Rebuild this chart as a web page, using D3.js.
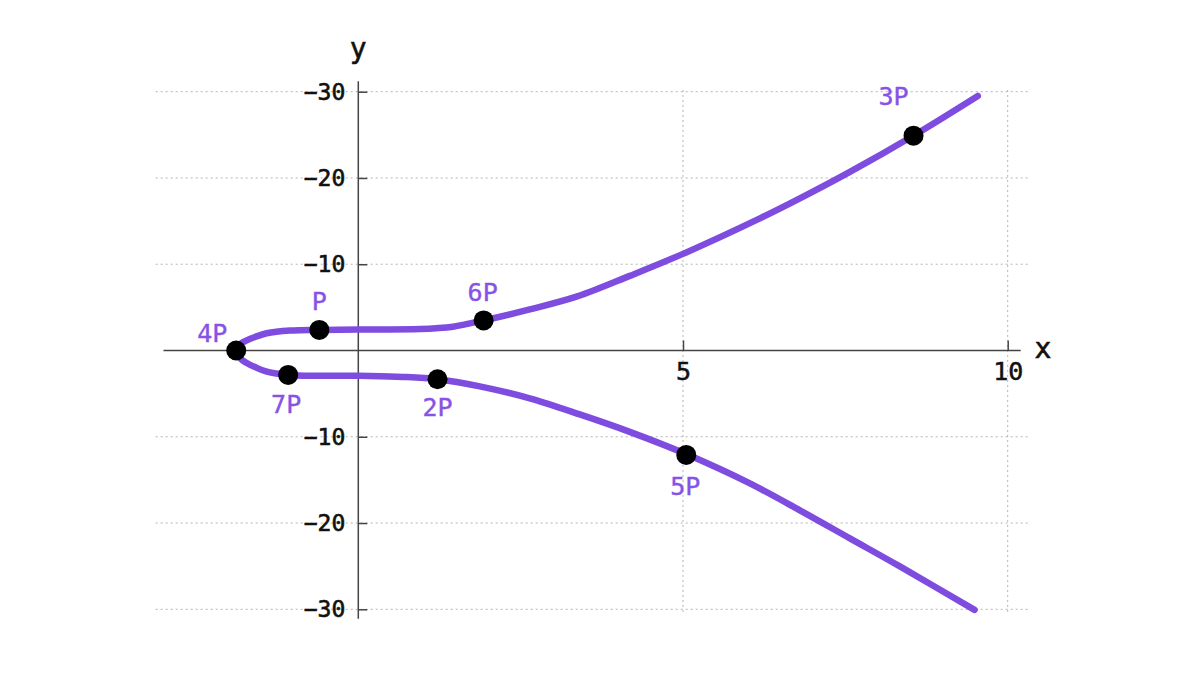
<!DOCTYPE html>
<html>
<head>
<meta charset="utf-8">
<script src="https://cdn.jsdelivr.net/npm/d3@7"></script>
<style>
  html, body { margin: 0; padding: 0; background: #fff; }
  svg { display: block; font-family: "DejaVu Sans Mono", monospace; }
</style>
</head>
<body>
<svg id="chart" width="1200" height="675"></svg>
<script>
// ---- data ----
const upperX = [-1.88, -1.814, -1.718, -1.591, -1.41, -1.05, -0.60, 0.00, 0.955, 1.20, 1.46, 1.93, 2.64, 3.37, 4.18, 5.00, 6.20, 6.80, 7.57, 8.54, 9.54];
const upperY = [0.00, 0.765, 1.18, 1.57, 2.00, 2.31, 2.39, 2.42, 2.50, 2.58, 2.76, 3.49, 4.76, 6.27, 8.65, 11.2, 15.37, 17.63, 20.70, 24.87, 29.51];
const lowerX = [-1.88, -1.814, -1.718, -1.591, -1.41, -1.08, 0.00, 0.69, 1.22, 1.87, 2.64, 3.41, 4.18, 5.04, 6.03, 6.80, 7.57, 8.34, 9.49];
const lowerY = [0.00, -0.94, -1.45, -1.92, -2.45, -2.83, -2.94, -3.06, -3.33, -4.16, -5.55, -7.41, -9.43, -11.98, -15.41, -18.53, -21.78, -25.03, -30.07];

const pointNames = ["P", "2P", "3P", "4P", "5P", "6P", "7P"];
const pointX = [-0.60, 1.22, 8.55, -1.88, 5.05, 1.93, -1.08];
const pointY = [2.39, -3.33, 24.9, 0.00, -12.1, 3.49, -2.83];

const xTickValues = [5, 10];
const xTickLabels = ["5", "10"];
const yTickValues = [30, 20, 10, -10, -20, -30];
const yTickLabels = ["\u221230", "\u221220", "\u221210", "\u221210", "\u221220", "\u221230"];

// ---- presentation ----
const labelOffset = {
  "P":  [0, -20], "2P": [0, 37], "3P": [-20, -31], "4P": [-24, -9],
  "5P": [-1, 40], "6P": [-1, -19], "7P": [-2, 38]
};
const curveColor = "#7f4ce0";
const labelColor = "#8752e6";

const svg = d3.select("#chart");
const x = d3.scaleLinear().domain([0, 10]).range([358.3, 1007.7]);
const y = d3.scaleLinear().domain([-30, 30]).range([609.3, 91.7]);

// grid
const grid = svg.append("g").attr("stroke", "#b4b4b4").attr("stroke-width", 1)
  .attr("stroke-dasharray", "2,3");
grid.selectAll("line.h").data(yTickValues).join("line")
  .attr("x1", x(-3.12)).attr("x2", x(10.35))
  .attr("y1", d => y(d)).attr("y2", d => y(d));
grid.selectAll("line.v").data(xTickValues).join("line")
  .attr("x1", d => x(d)).attr("x2", d => x(d))
  .attr("y1", y(30.2)).attr("y2", y(-30.3));

// axis lines
svg.append("line").attr("x1", x(-3.0)).attr("x2", x(10.2))
  .attr("y1", y(0)).attr("y2", y(0)).attr("stroke", "#444").attr("stroke-width", 1.5);
svg.append("line").attr("x1", x(0)).attr("x2", x(0))
  .attr("y1", y(31.2)).attr("y2", y(-31.1)).attr("stroke", "#444").attr("stroke-width", 1.5);

// y axis ticks/labels
const yAxis = d3.axisLeft(y).tickValues(yTickValues).tickSize(-9).tickPadding(13)
  .tickFormat((d, i) => yTickLabels[i]);
const gy = svg.append("g").attr("transform", `translate(${x(0)},0)`).call(yAxis);
gy.select(".domain").remove();
gy.selectAll(".tick line").attr("stroke", "#444").attr("stroke-width", 1.5);
gy.selectAll(".tick text").attr("fill", "#111").attr("stroke", "#111").attr("stroke-width", 0.6)
  .style("font-size", "23px").style("font-family", "DejaVu Sans Mono");

// x axis ticks/labels
const xAxis = d3.axisBottom(x).tickValues(xTickValues).tickSize(-10).tickPadding(12)
  .tickFormat((d, i) => xTickLabels[i]);
const gx = svg.append("g").attr("transform", `translate(0,${y(0)})`).call(xAxis);
gx.select(".domain").remove();
gx.selectAll(".tick line").attr("stroke", "#444").attr("stroke-width", 1.5);
gx.selectAll(".tick text").attr("fill", "#111").attr("stroke", "#111").attr("stroke-width", 0.5)
  .style("font-size", "25px").style("font-family", "DejaVu Sans Mono");

// axis titles
svg.append("text").attr("x", x(0)).attr("y", 58).attr("text-anchor", "middle")
  .style("font-size", "28px").attr("fill", "#111").attr("stroke", "#111").attr("stroke-width", 0.6).text("y");
svg.append("text").attr("x", 1043).attr("y", y(0) + 7).attr("text-anchor", "middle")
  .style("font-size", "28px").attr("fill", "#111").attr("stroke", "#111").attr("stroke-width", 0.6).text("x");

// curve: lower branch reversed, then upper branch
const lowerPts = lowerX.map((d, i) => [d, lowerY[i]]).reverse();
const upperPts = upperX.map((d, i) => [d, upperY[i]]).slice(1);
const allPts = lowerPts.concat(upperPts);
const line = d3.line().x(d => x(d[0])).y(d => y(d[1])).curve(d3.curveCatmullRom.alpha(0.5));
svg.append("path").datum(allPts).attr("d", line)
  .attr("fill", "none").attr("stroke", curveColor).attr("stroke-width", 6.5)
  .attr("stroke-linecap", "round").attr("stroke-linejoin", "round");

// points
const pts = pointNames.map((n, i) => ({ name: n, x: pointX[i], y: pointY[i] }));
svg.selectAll("circle.pt").data(pts).join("circle")
  .attr("cx", d => x(d.x)).attr("cy", d => y(d.y)).attr("r", 10).attr("fill", "#000");
svg.selectAll("text.pl").data(pts).join("text")
  .attr("x", d => x(d.x) + labelOffset[d.name][0])
  .attr("y", d => y(d.y) + labelOffset[d.name][1])
  .attr("text-anchor", "middle").attr("fill", labelColor)
  .attr("stroke", labelColor).attr("stroke-width", 0.4)
  .style("font-size", "25px").text(d => d.name);
</script>
</body>
</html>
